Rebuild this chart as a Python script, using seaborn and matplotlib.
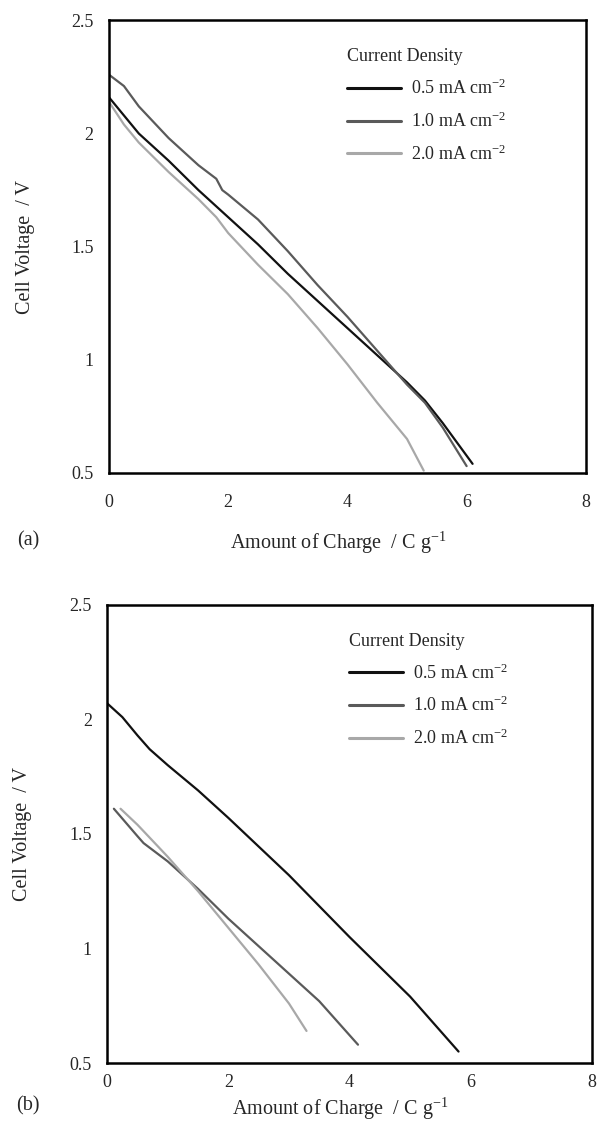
import matplotlib
matplotlib.use('Agg')
import matplotlib.pyplot as plt
import pandas as pd
import seaborn as sns

sns.set_style('white')
plt.rcParams['font.family'] = ['Liberation Serif', 'DejaVu Serif']
plt.rcParams['mathtext.fontset'] = 'custom'
plt.rcParams['mathtext.rm'] = 'Liberation Serif'
plt.rcParams['mathtext.it'] = 'Liberation Serif:italic'
plt.rcParams['mathtext.bf'] = 'Liberation Serif:bold'

DENSITY = 'Current Density'
CHARGE = 'Amount of Charge'
VOLTAGE = 'Cell Voltage'
LABELS = ['0.5 mA cm$^{-2}$', '1.0 mA cm$^{-2}$', '2.0 mA cm$^{-2}$']
COLORS = ['#111111', '#5a5a5a', '#a8a8a8']

# panel (a)
a_05_x = [0, 0.25, 0.5, 1, 1.5, 2, 2.5, 3, 3.5, 4, 4.5, 5, 5.3, 5.6, 5.85, 6.1]
a_05_v = [2.16, 2.08, 2.00, 1.88, 1.75, 1.63, 1.51, 1.38, 1.26, 1.14, 1.02, 0.90, 0.82, 0.72, 0.63, 0.54]
a_10_x = [0, 0.25, 0.5, 1, 1.5, 1.8, 1.9, 2, 2.5, 3, 3.5, 4, 4.5, 5, 5.3, 5.6, 6.0]
a_10_v = [2.26, 2.21, 2.12, 1.98, 1.86, 1.80, 1.75, 1.73, 1.62, 1.48, 1.33, 1.19, 1.04, 0.89, 0.81, 0.70, 0.53]
a_20_x = [0, 0.25, 0.5, 1, 1.5, 1.8, 2, 2.5, 3, 3.5, 4, 4.5, 5, 5.28]
a_20_v = [2.14, 2.04, 1.96, 1.83, 1.71, 1.63, 1.56, 1.42, 1.29, 1.14, 0.98, 0.81, 0.65, 0.51]

# panel (b)
b_05_x = [0, 0.25, 0.5, 0.7, 1, 1.5, 2, 3, 4, 5, 5.5, 5.8]
b_05_v = [2.07, 2.01, 1.93, 1.87, 1.80, 1.69, 1.57, 1.32, 1.05, 0.79, 0.64, 0.55]
b_10_x = [0.11, 0.5, 0.6, 1, 1.5, 2, 2.5, 3, 3.5, 4.14]
b_10_v = [1.61, 1.49, 1.46, 1.38, 1.26, 1.13, 1.01, 0.89, 0.77, 0.58]
b_20_x = [0.22, 0.5, 1, 1.5, 2, 2.5, 3, 3.29]
b_20_v = [1.61, 1.54, 1.40, 1.25, 1.09, 0.93, 0.76, 0.64]


def make_frame(xs, vs):
    parts = []
    for lab, x, v in zip(LABELS, xs, vs):
        parts.append(pd.DataFrame({CHARGE: x, VOLTAGE: v, DENSITY: lab}))
    return pd.concat(parts, ignore_index=True)


df_a = make_frame([a_05_x, a_10_x, a_20_x], [a_05_v, a_10_v, a_20_v])
df_b = make_frame([b_05_x, b_10_x, b_20_x], [b_05_v, b_10_v, b_20_v])

fig = plt.figure(figsize=(5.99, 11.34), dpi=100)
ax_a = fig.add_axes([0.182, 0.583, 0.796, 0.399])
ax_b = fig.add_axes([0.179, 0.0626, 0.809, 0.404])

# (axes, data, tag, tag y, x tick pad, xlabel y)
panels = (
    (ax_a, df_a, '(a)', 1 - 541 / 1134, 15, -0.125),
    (ax_b, df_b, '(b)', 1 - 1106 / 1134, 8, -0.072),
)
for ax, df, tag, tag_y, xpad, xlab_y in panels:
    sns.lineplot(data=df, x=CHARGE, y=VOLTAGE, hue=DENSITY, palette=COLORS,
                 estimator=None, sort=False, linewidth=1.6, ax=ax)
    ax.set_xlim(0, 8)
    ax.set_ylim(0.5, 2.5)
    ax.set_xticks([0, 2, 4, 6, 8])
    ax.set_xticklabels(['0', '2', '4', '6', '8'])
    ax.set_yticks([0.5, 1, 1.5, 2, 2.5])
    ax.set_yticklabels(['0.5', '1', '1.5', '2', '2.5'])
    ax.tick_params(direction='in', length=7, width=1.8, labelsize=13, color='black')
    ax.tick_params(axis='x', pad=xpad)
    ax.tick_params(axis='y', pad=11)
    for sp in ax.spines.values():
        sp.set_linewidth(1.8)
        sp.set_color('black')
    ax.set_xlabel('Amount of Charge  / C g$^{-1}$', fontsize=14.5)
    ax.set_ylabel('Cell Voltage  / V', fontsize=14.5)
    ax.xaxis.set_label_coords(0.48, xlab_y)
    ax.yaxis.set_label_coords(-0.155, 0.5)
    leg = ax.legend(loc='upper left', bbox_to_anchor=(0.465, 0.975), frameon=False,
                    title='Current Density', fontsize=13, title_fontsize=13,
                    handlelength=3.0, labelspacing=0.75, handletextpad=0.55)
    leg._legend_box.align = 'left'
    for h in leg.get_lines():
        h.set_linewidth(2.2)
    fig.text(28 / 599, tag_y, tag, fontsize=14.5, ha='center', va='center')

fig.savefig('out.png', dpi=100)
